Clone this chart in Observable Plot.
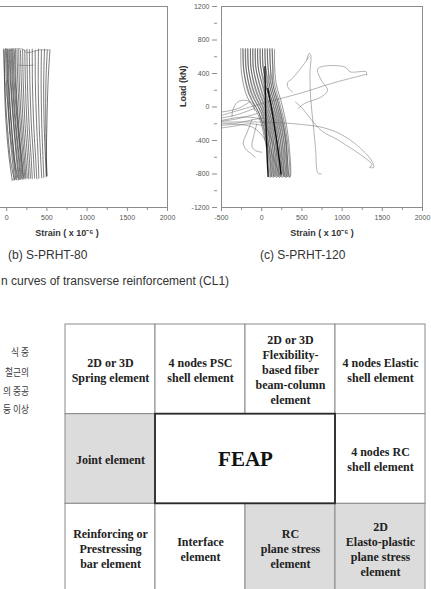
<!DOCTYPE html>
<html>
<head>
<meta charset="utf-8">
<script src="https://cdn.jsdelivr.net/npm/d3@7"></script>
<script src="https://cdn.jsdelivr.net/npm/@observablehq/plot@0.6"></script>
<style>
  html, body { margin: 0; padding: 0; background: #fff; }
  #page { position: relative; width: 431px; height: 589px; overflow: hidden; background: #fff; }
  .abs { position: absolute; }
  .cap { font-family: "Liberation Sans", Arial, sans-serif; font-size: 12px; color: #333; white-space: nowrap; }
  .kr { font-family: "Noto Sans CJK KR", sans-serif; font-size: 10px; letter-spacing: 0; color: #3a3a3a; white-space: nowrap; text-align: right; width: 200px; transform: scaleX(0.87); transform-origin: right center; }
</style>
</head>
<body>
<div id="page"></div>
<script>
// ---------- axis ticks ----------
const xMajor = [-500, 0, 500, 1000, 1500, 2000];
const xMajorB = [0, 500, 1000, 1500, 2000];
const xMinor = [-250, 250, 750, 1250, 1750];
const yMajor = [-1200, -800, -400, 0, 400, 800, 1200];
const yMinor = [-1000, -600, -200, 200, 600, 1000];

// ---------- (b) S-PRHT-80 : strain (x10^-6), load (kN) ----------
const bStrokes = [
  [[-40,690],[-28,350],[-15,-80],[25,-560],[68,-875]],
  [[-30,675],[-22,230],[10,-260],[48,-640],[92,-860]],
  [[-15,695],[-5,330],[25,-140],[58,-520],[98,-872]],
  [[-5,684],[12,270],[35,-210],[83,-610],[112,-858]],
  [[8,690],[18,310],[52,-170],[90,-590],[126,-868]],
  [[18,670],[30,250],[62,-240],[104,-655],[136,-845]],
  [[30,688],[44,340],[78,-130],[118,-580],[148,-870]],
  [[42,680],[55,290],[90,-195],[132,-625],[158,-862]],
  [[55,692],[70,300],[105,-185],[146,-600],[170,-866]],
  [[68,684],[82,260],[118,-230],[160,-645],[180,-850]],
  [[80,690],[92,320],[128,-150],[170,-590],[192,-864]],
  [[95,678],[108,295],[140,-205],[182,-615],[203,-852]],
  [[110,691],[118,270],[150,-225],[190,-640],[214,-860]],
  [[128,683],[138,305],[166,-190],[204,-610],[226,-848]],
  [[150,690],[158,285],[186,-215],[222,-635],[240,-858]],
  [[172,676],[182,300],[205,-200],[238,-620],[256,-846]],
  [[198,688],[206,290],[228,-205],[262,-640],[275,-858]],
  [[225,680],[232,305],[252,-195],[282,-625],[296,-850]],
  [[252,690],[258,285],[278,-210],[306,-635],[318,-856]],
  [[282,684],[288,300],[306,-200],[334,-620],[346,-848]],
  [[318,690],[320,290],[336,-205],[362,-640],[374,-858]],
  [[355,680],[356,300],[372,-195],[392,-628],[400,-850]],
  [[395,690],[392,285],[404,-210],[424,-640],[436,-846]],
  [[432,684],[428,300],[436,-200],[452,-625],[462,-840]],
  [[470,690],[460,290],[466,-205],[482,-620],[492,-832]],
  [[505,680],[488,300],[486,-195],[492,-610],[498,-826]],
  [[538,682],[515,310],[500,-210],[494,-600],[502,-818]]
];
const bExtras = [
  [[-40,690],[100,695],[200,690],[260,650],[400,680],[530,680]],
  [[-28,350],[30,-100],[35,-300],[25,-320]],
  [[150,500],[250,495],[330,500]],
  [[-10,690],[40,675],[90,690]],
  [[68,-875],[100,-860],[130,-870]]
];

// ---------- (c) S-PRHT-120 ----------
const cLoops = [
  [[-260,700],[-250,400],[-180,120],[-40,-100],[60,-500],[95,-830],[110,-840],[80,-500],[0,-150],[-150,150],[-225,450],[-235,700]],
  [[-230,690],[-220,420],[-160,150],[-30,-80],[70,-480],[110,-820],[125,-830],[95,-480],[20,-120],[-120,160],[-195,460],[-205,690]],
  [[-200,700],[-190,430],[-130,160],[-10,-70],[90,-470],[130,-830],[145,-840],[115,-470],[40,-110],[-90,170],[-165,460],[-175,700]],
  [[-170,690],[-160,430],[-100,170],[10,-60],[110,-460],[150,-820],[165,-830],[135,-460],[60,-100],[-60,180],[-135,470],[-140,690]],
  [[-140,700],[-130,440],[-70,180],[30,-50],[130,-450],[170,-830],[185,-840],[155,-450],[80,-90],[-30,190],[-105,470],[-110,700]],
  [[-110,690],[-100,440],[-40,190],[50,-40],[150,-440],[190,-820],[205,-830],[175,-440],[100,-80],[0,200],[-75,480],[-80,690]],
  [[-80,700],[-70,450],[-10,200],[70,-30],[170,-430],[210,-830],[225,-840],[195,-430],[120,-70],[30,210],[-45,480],[-50,700]],
  [[-50,690],[-40,450],[20,210],[90,-20],[190,-420],[230,-820],[245,-830],[215,-420],[140,-60],[60,220],[-15,490],[-20,690]],
  [[-20,700],[-10,460],[40,220],[110,-10],[210,-410],[250,-830],[265,-840],[235,-410],[160,-50],[80,230],[15,490],[10,700]],
  [[10,690],[20,460],[60,230],[130,0],[230,-400],[270,-820],[285,-830],[255,-400],[180,-40],[100,240],[45,500],[40,690]],
  [[40,700],[50,470],[80,240],[150,10],[250,-390],[290,-830],[305,-840],[275,-390],[200,-30],[120,250],[75,500],[70,700]],
  [[70,690],[80,470],[100,250],[170,20],[270,-380],[310,-820],[325,-830],[295,-380],[220,-20],[140,260],[105,500],[100,690]],
  [[100,700],[110,480],[120,260],[190,30],[290,-370],[330,-830],[345,-840],[315,-370],[240,-10],[160,270],[135,510],[130,700]],
  [[130,690],[140,480],[140,270],[210,40],[300,-360],[340,-820],[355,-830],[330,-360],[260,0],[180,280],[160,510],[160,690]]
];
const cFan = [
  [[-150,60],[-300,-20],[-500,-60]],
  [[-100,-20],[-300,-90],[-500,-130]],
  [[-60,-80],[-300,-140],[-500,-170]],
  [[-500,-200],[-300,-190],[-100,-150],[20,-130]],
  [[-500,-250],[-350,-230],[-150,-200],[0,-220]],
  [[-500,-220],[-250,-210],[-80,-260],[60,-420],[160,-640],[230,-830]],
  [[-500,-160],[-200,-120],[0,-160],[120,-380],[220,-620],[300,-840]],
  [[-370,-120],[-360,-40],[-300,60],[-200,80],[-110,40],[-90,-40]],
  [[-120,-150],[-180,-300],[-230,-430],[-200,-500],[-130,-560],[-80,-600]],
  [[-60,-200],[-100,-350],[-120,-470],[-80,-520],[0,-540]]
];
const cStray = [
  [[-500,-100],[0,40],[500,170],[900,290],[1300,390]],
  [[450,-20],[530,40],[740,120],[820,200],[740,320],[700,460],[1030,480],[1100,420],[1300,420],[1305,380]],
  [[560,560],[590,640],[610,620],[600,400],[610,100],[640,-200],[670,-500],[700,-790],[740,-800]],
  [[590,600],[500,480],[380,340],[320,290],[330,230],[380,180]],
  [[-500,-180],[0,-180],[400,-200],[820,-260],[1110,-400],[1360,-630],[1395,-720],[1340,-720],[1370,-690],[960,-400],[740,-280],[490,0],[420,60]]
];
const cCore = [
  [[40,480],[45,200],[50,-100],[60,-400],[70,-650],[80,-830]],
  [[75,220],[120,0],[170,-300],[215,-600],[240,-800]]
];

// ---------- table of element library ----------
const tableLabels = [
  "2D or 3D\nSpring element", "4 nodes PSC\nshell element",
  "2D or 3D\nFlexibility-\nbased fiber\nbeam-column\nelement", "4 nodes Elastic\nshell element",
  "Joint element", "FEAP", "4 nodes RC\nshell element",
  "Reinforcing or\nPrestressing\nbar element", "Interface\nelement",
  "RC\nplane stress\nelement", "2D\nElasto-plastic\nplane stress\nelement"
];
const tableRow = [0,0,0,0,1,1,1,2,2,2,2];
const tableCol = [0,1,2,3,0,1,3,0,1,2,3];
const tableSpan = [1,1,1,1,1,2,1,1,1,1,1];
const tableShaded = [false,false,false,false,true,false,false,false,false,true,true];

// ---------- texts ----------
const captions = ["(b) S-PRHT-80", "(c) S-PRHT-120", "n curves of transverse reinforcement (CL1)"];
const koreanLines = ["식 중", "철근의", "의 중공", "등 이상"];

function toRows(paths, group) {
  return paths.flatMap((p, i) => p.map(([x, y]) => ({id: group + i, x, y})));
}

function hyst(groups, showYText, xTicks) {
  const marks = [
    Plot.frame({stroke: "#8c8c8c", strokeWidth: 1}),
    Plot.axisX({ticks: xTicks, tickSize: 4, tickPadding: 4, tickFormat: d => String(d), fontSize: 7, fill: "#555", stroke: "#8c8c8c", label: null}),
    Plot.axisX({ticks: xMinor, tickSize: 3, tickFormat: () => "", stroke: "#8c8c8c", label: null})
  ];
  if (showYText) {
    marks.push(Plot.axisY({ticks: yMajor, tickSize: 5, tickPadding: 3, dx: -4, tickFormat: d => String(d), fontSize: 7, fill: "#555", stroke: "#8c8c8c", label: null}));
    marks.push(Plot.axisY({ticks: yMinor, tickSize: 3, dx: -4, tickFormat: () => "", stroke: "#8c8c8c", label: null}));
  }
  for (const g of groups) {
    marks.push(Plot.line(g.rows, {x: "x", y: "y", z: "id", stroke: g.stroke, strokeWidth: g.width, strokeOpacity: g.opacity, curve: "catmull-rom", clip: true}));
  }
  marks.push(Plot.text(["Strain ( x 10\u207B\u2076 )"], {frameAnchor: "bottom", dy: 28, fontWeight: "bold", fontSize: 9, fill: "#333"}));
  if (showYText) marks.push(Plot.text(["Load (kN)"], {frameAnchor: "left", dx: -38, rotate: -90, fontWeight: "bold", fontSize: 9, fill: "#333"}));
  return Plot.plot({
    width: 270, height: 251,
    marginLeft: 60, marginRight: 9, marginTop: 6, marginBottom: 44,
    x: {domain: [-500, 2000]},
    y: showYText ? {domain: [-1200, 1200]} : {domain: [-1200, 1200], axis: null},
    style: {fontFamily: "'Liberation Sans', Arial, sans-serif", background: "transparent", overflow: "visible"},
    marks
  });
}

const page = document.getElementById("page");
function place(el, left, top) {
  const d = document.createElement("div");
  d.className = "abs";
  d.style.left = left + "px";
  d.style.top = top + "px";
  d.appendChild(el);
  page.appendChild(d);
  return d;
}

const chartB = hyst([
  {rows: toRows(bStrokes, "b"), stroke: "#222", width: 0.75, opacity: 0.8},
  {rows: toRows(bExtras, "bx"), stroke: "#555", width: 0.6, opacity: 0.8}
], false, xMajorB);
const chartC = hyst([
  {rows: toRows(cLoops, "c"), stroke: "#333", width: 0.6, opacity: 0.85},
  {rows: toRows(cFan, "cf"), stroke: "#555", width: 0.55, opacity: 0.85},
  {rows: toRows(cStray, "cs"), stroke: "#666", width: 0.55, opacity: 0.9},
  {rows: toRows(cCore, "cc"), stroke: "#000", width: 1.4, opacity: 0.9}
], true, xMajor);
place(chartB, -94.5, 0);
place(chartC, 161, 0);

// captions
function textDiv(cls, txt, left, top) {
  const d = document.createElement("div");
  d.className = "abs " + cls;
  d.textContent = txt;
  d.style.left = left + "px";
  d.style.top = top + "px";
  page.appendChild(d);
  return d;
}
textDiv("cap", captions[0], 8, 248);
textDiv("cap", captions[1], 260, 248);
textDiv("cap", captions[2], 1, 274);

// korean text, right-aligned near x = 29
const krTops = [344, 364, 383, 401];
koreanLines.forEach((t, i) => textDiv("kr", t, 29 - 200, krTops[i]));

// table diagram
const cells = tableLabels.map((label, i) => ({
  label, row: tableRow[i], col: tableCol[i], span: tableSpan[i], shaded: tableShaded[i]
}));
const table = Plot.plot({
  width: 362, height: 271,
  marginLeft: 1, marginRight: 1, marginTop: 1, marginBottom: 1,
  x: {domain: [0, 4], axis: null},
  y: {domain: [0, 3], reverse: true, axis: null},
  style: {fontFamily: "'Liberation Serif', 'Times New Roman', serif", background: "transparent"},
  marks: [
    Plot.rect(cells, {x1: "col", x2: d => d.col + d.span, y1: "row", y2: d => d.row + 1,
      fill: d => d.shaded ? "#dcdcdc" : "#ffffff", stroke: "#8a8a8a", strokeWidth: 1}),
    Plot.rect(cells.filter(d => d.span > 1), {x1: "col", x2: d => d.col + d.span, y1: "row", y2: d => d.row + 1,
      fill: "none", stroke: "#2a2a2a", strokeWidth: 1.8}),
    Plot.text(cells.filter(d => d.span === 1), {x: d => d.col + d.span / 2, y: d => d.row + 0.5, text: "label",
      fontSize: 12, fontWeight: "bold", lineHeight: 1.25, fill: "#222"}),
    Plot.text(cells.filter(d => d.span > 1), {x: d => d.col + d.span / 2, y: d => d.row + 0.5, text: "label",
      fontSize: 21, fontWeight: "bold", fill: "#111"})
  ]
});
place(table, 63.7, 323);
</script>
</body>
</html>
